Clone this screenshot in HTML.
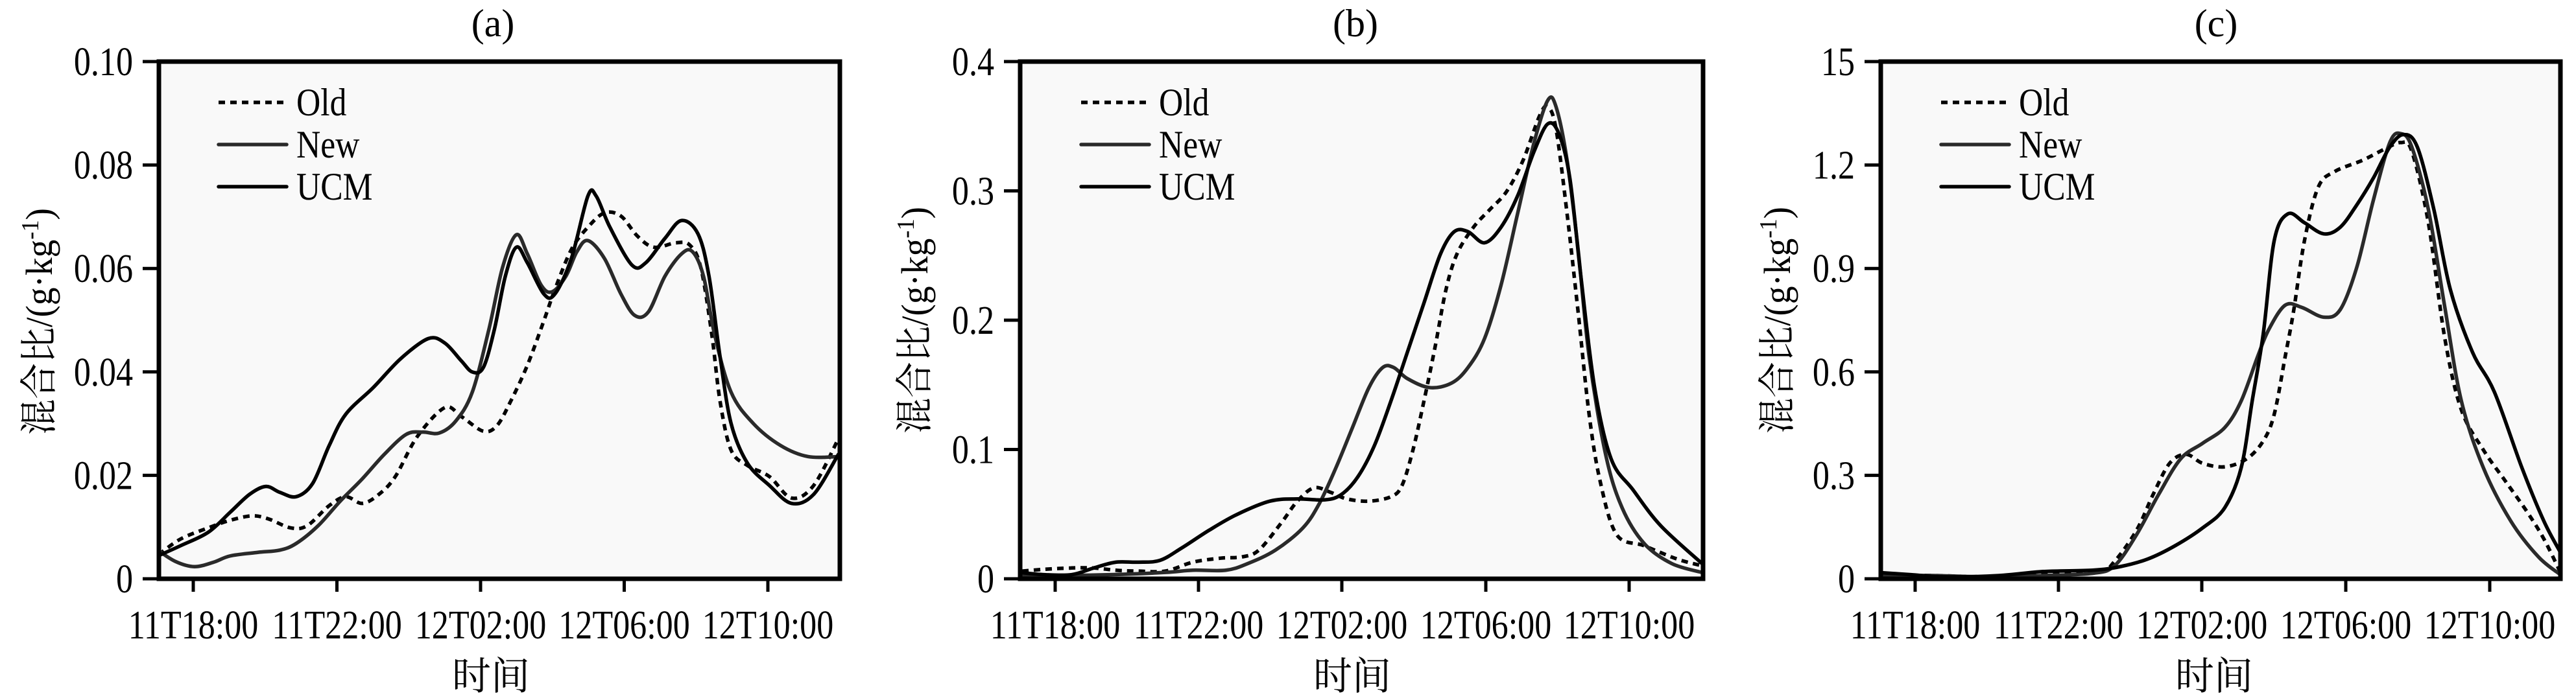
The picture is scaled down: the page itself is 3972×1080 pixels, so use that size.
<!DOCTYPE html>
<html><head><meta charset="utf-8"><style>
html,body{margin:0;padding:0;background:#fff;}
svg{display:block;}
text{font-family:"Liberation Serif","Times New Roman","DejaVu Serif",serif;fill:#000;}
.cjk{font-family:"Liberation Serif","Noto Serif CJK SC","Noto Sans CJK SC",serif;}
.c{fill:none;vector-effect:non-scaling-stroke;stroke-width:5.5;stroke-linejoin:round;stroke-linecap:round;}
.old{stroke:#000;stroke-dasharray:10,8;stroke-linecap:butt;}
.new{stroke:#2a2a2a;}
.ucm{stroke:#000;}
</style></head><body>
<svg width="3972" height="1080" viewBox="0 0 3972 1080" xmlns="http://www.w3.org/2000/svg" font-family="Liberation Serif, serif">
<defs>
<clipPath id="ca"><rect x="245" y="95" width="1050" height="798"/></clipPath>
<clipPath id="cb"><rect x="243" y="95" width="1053" height="798"/></clipPath>
<clipPath id="cc"><rect x="258" y="95" width="1048" height="798"/></clipPath>
</defs>

<!-- ================= Panel A ================= -->
<g transform="translate(0,0)">
<rect x="245" y="95" width="1050" height="798" fill="#f9f9f9"/>
<g clip-path="url(#ca)">
<g transform="translate(-1.6,0) scale(0.8487,0.6873)">
<polyline class="c old" points="290,1245 330,1210 380,1185 420,1168 460,1158 490,1165 530,1185 560,1180 600,1135 630,1115 660,1130 690,1110 720,1070 760,980 810,915 840,935 880,968 905,955 930,900 960,820 990,720 1010,650 1040,560 1070,510 1100,478 1130,485 1160,530 1190,555 1230,545 1255,550 1275,600 1295,750 1310,900 1330,1010 1360,1045 1400,1070 1440,1118 1480,1090 1525,985"/>
<polyline class="c new" points="285,1232 320,1260 355,1272 390,1262 420,1248 470,1240 510,1235 540,1220 580,1180 620,1125 660,1075 700,1020 740,975 770,970 800,972 830,945 860,880 890,740 915,600 940,527 960,570 985,640 1005,655 1030,620 1050,565 1070,540 1100,580 1130,660 1155,708 1180,700 1210,620 1240,570 1260,565 1280,620 1300,750 1330,880 1370,950 1420,1000 1470,1025 1525,1025"/>
<polyline class="c ucm" points="285,1250 330,1225 380,1195 420,1150 455,1110 485,1092 510,1105 540,1115 570,1085 600,1000 630,930 680,870 730,805 780,760 810,770 840,810 860,835 880,825 900,740 920,620 940,555 960,590 990,660 1010,660 1040,580 1070,440 1085,440 1110,510 1150,595 1175,590 1210,535 1240,495 1270,525 1290,620 1310,800 1330,950 1360,1040 1400,1090 1440,1130 1480,1110 1525,1020"/>
</g></g>
<rect x="245" y="95" width="1050" height="798" fill="none" stroke="#000" stroke-width="7"/>
<g stroke="#000" stroke-width="5">
<line x1="220" y1="95" x2="245" y2="95"/><line x1="220" y1="254.6" x2="245" y2="254.6"/><line x1="220" y1="414.2" x2="245" y2="414.2"/><line x1="220" y1="573.8" x2="245" y2="573.8"/><line x1="220" y1="733.4" x2="245" y2="733.4"/><line x1="220" y1="893" x2="245" y2="893"/>
<line x1="298" y1="893" x2="298" y2="913"/><line x1="519.5" y1="893" x2="519.5" y2="913"/><line x1="741" y1="893" x2="741" y2="913"/><line x1="962.5" y1="893" x2="962.5" y2="913"/><line x1="1184" y1="893" x2="1184" y2="913"/>
</g>
<g font-size="62" text-anchor="end">
<text transform="translate(205,116) scale(0.84,1)">0.10</text>
<text transform="translate(205,275.6) scale(0.84,1)">0.08</text>
<text transform="translate(205,435.2) scale(0.84,1)">0.06</text>
<text transform="translate(205,594.8) scale(0.84,1)">0.04</text>
<text transform="translate(205,754.4) scale(0.84,1)">0.02</text>
<text transform="translate(205,914) scale(0.84,1)">0</text>
</g>
<g font-size="62" text-anchor="middle">
<text transform="translate(298,985) scale(0.84,1)">11T18:00</text>
<text transform="translate(519.5,985) scale(0.84,1)">11T22:00</text>
<text transform="translate(741,985) scale(0.84,1)">12T02:00</text>
<text transform="translate(962.5,985) scale(0.84,1)">12T06:00</text>
<text transform="translate(1184,985) scale(0.84,1)">12T10:00</text>
<text x="760" y="56" font-size="60">(a)</text>
</g>
<text class="cjk" x="757" y="1064" font-size="60" text-anchor="middle">时间</text>
<text class="cjk" transform="translate(80,496) rotate(-90)" font-size="58" text-anchor="middle" textLength="350" lengthAdjust="spacingAndGlyphs">混合比/(g·kg<tspan baseline-shift="super" font-size="38">-1</tspan>)</text>
<line x1="337" y1="158" x2="442" y2="158" stroke="#000" stroke-width="5.5" stroke-dasharray="10,8"/>
<line x1="337" y1="223" x2="442" y2="223" stroke="#2a2a2a" stroke-width="5.5" stroke-linecap="round"/>
<line x1="337" y1="288" x2="442" y2="288" stroke="#000" stroke-width="5.5" stroke-linecap="round"/>
<g font-size="60">
<text transform="translate(457,178) scale(0.86,1)">Old</text>
<text transform="translate(457,243) scale(0.86,1)">New</text>
<text transform="translate(457,308) scale(0.86,1)">UCM</text>
</g>
</g>

<!-- ================= Panel B ================= -->
<g transform="translate(1330,0)">
<rect x="243" y="95" width="1053" height="798" fill="#f9f9f9"/>
<g clip-path="url(#cb)">
<g transform="scale(0.8487,0.6873)">
<polyline class="c old" points="290,1282 330,1278 380,1275 420,1275 460,1280 500,1282 550,1282 600,1262 650,1253 690,1250 720,1235 760,1175 790,1125 820,1095 850,1105 880,1120 920,1125 960,1115 980,1090 1000,1010 1020,900 1040,780 1060,650 1080,570 1110,510 1140,470 1170,430 1200,360 1230,260 1245,240 1260,290 1280,480 1300,700 1320,930 1340,1080 1370,1200 1420,1225 1480,1255 1525,1270"/>
<polyline class="c new" points="285,1290 350,1292 450,1290 550,1285 600,1280 660,1280 700,1265 750,1235 800,1185 830,1130 860,1050 890,960 920,870 945,825 965,825 990,850 1030,870 1070,860 1100,825 1130,760 1160,640 1190,480 1220,320 1245,225 1260,240 1280,360 1300,560 1320,800 1350,1020 1380,1140 1420,1220 1470,1265 1525,1285"/>
<polyline class="c ucm" points="285,1285 330,1290 380,1290 420,1275 460,1262 500,1262 540,1258 580,1230 630,1190 680,1155 740,1125 790,1120 840,1122 870,1110 900,1070 930,1000 960,900 990,790 1020,680 1050,570 1075,520 1100,520 1130,545 1160,510 1190,440 1220,340 1245,278 1265,300 1285,400 1305,620 1330,870 1360,1030 1400,1100 1450,1180 1525,1265"/>
</g></g>
<rect x="243" y="95" width="1053" height="798" fill="none" stroke="#000" stroke-width="7"/>
<g stroke="#000" stroke-width="5">
<line x1="218" y1="95" x2="243" y2="95"/><line x1="218" y1="294.5" x2="243" y2="294.5"/><line x1="218" y1="494" x2="243" y2="494"/><line x1="218" y1="693.5" x2="243" y2="693.5"/><line x1="218" y1="893" x2="243" y2="893"/>
<line x1="297" y1="893" x2="297" y2="913"/><line x1="518" y1="893" x2="518" y2="913"/><line x1="739" y1="893" x2="739" y2="913"/><line x1="961" y1="893" x2="961" y2="913"/><line x1="1182" y1="893" x2="1182" y2="913"/>
</g>
<g font-size="62" text-anchor="end">
<text transform="translate(203,116) scale(0.84,1)">0.4</text>
<text transform="translate(203,315.5) scale(0.84,1)">0.3</text>
<text transform="translate(203,515) scale(0.84,1)">0.2</text>
<text transform="translate(203,714.5) scale(0.84,1)">0.1</text>
<text transform="translate(203,914) scale(0.84,1)">0</text>
</g>
<g font-size="62" text-anchor="middle">
<text transform="translate(297,985) scale(0.84,1)">11T18:00</text>
<text transform="translate(518,985) scale(0.84,1)">11T22:00</text>
<text transform="translate(739,985) scale(0.84,1)">12T02:00</text>
<text transform="translate(961,985) scale(0.84,1)">12T06:00</text>
<text transform="translate(1182,985) scale(0.84,1)">12T10:00</text>
<text x="760" y="56" font-size="60">(b)</text>
</g>
<text class="cjk" x="755" y="1064" font-size="60" text-anchor="middle">时间</text>
<text class="cjk" transform="translate(100,494) rotate(-90)" font-size="58" text-anchor="middle" textLength="350" lengthAdjust="spacingAndGlyphs">混合比/(g·kg<tspan baseline-shift="super" font-size="38">-1</tspan>)</text>
<line x1="337" y1="158" x2="442" y2="158" stroke="#000" stroke-width="5.5" stroke-dasharray="10,8"/>
<line x1="337" y1="223" x2="442" y2="223" stroke="#2a2a2a" stroke-width="5.5" stroke-linecap="round"/>
<line x1="337" y1="288" x2="442" y2="288" stroke="#000" stroke-width="5.5" stroke-linecap="round"/>
<g font-size="60">
<text transform="translate(457,178) scale(0.86,1)">Old</text>
<text transform="translate(457,243) scale(0.86,1)">New</text>
<text transform="translate(457,308) scale(0.86,1)">UCM</text>
</g>
</g>

<!-- ================= Panel C ================= -->
<g transform="translate(2642,0)">
<rect x="258" y="95" width="1048" height="798" fill="#f9f9f9"/>
<g clip-path="url(#cc)">
<g transform="translate(-1,0) scale(0.8487,0.6873)">
<polyline class="c old" points="300,1292 400,1292 500,1295 600,1290 700,1285 730,1260 770,1190 800,1110 830,1040 860,1020 890,1040 930,1048 970,1030 1000,990 1020,930 1040,800 1055,700 1075,540 1100,420 1130,385 1180,360 1220,335 1250,320 1270,340 1300,500 1330,760 1360,920 1400,1010 1440,1080 1480,1150 1510,1210 1540,1285"/>
<polyline class="c new" points="300,1292 400,1292 500,1295 600,1292 690,1287 730,1270 770,1200 810,1110 850,1030 890,995 930,960 960,900 990,800 1010,740 1040,685 1070,690 1110,712 1140,695 1170,600 1200,450 1230,320 1250,300 1270,330 1300,470 1330,690 1360,900 1400,1050 1450,1170 1500,1250 1540,1290"/>
<polyline class="c ucm" points="300,1285 360,1290 420,1295 520,1292 600,1283 690,1280 740,1272 790,1255 840,1225 890,1185 930,1140 960,1050 980,900 1000,750 1020,540 1045,480 1075,500 1110,525 1140,510 1170,460 1200,400 1230,330 1255,302 1280,330 1310,470 1340,650 1380,790 1420,880 1470,1050 1510,1170 1540,1240"/>
</g></g>
<rect x="258" y="95" width="1048" height="798" fill="none" stroke="#000" stroke-width="7"/>
<g stroke="#000" stroke-width="5">
<line x1="233" y1="95" x2="258" y2="95"/><line x1="233" y1="254.6" x2="258" y2="254.6"/><line x1="233" y1="414.2" x2="258" y2="414.2"/><line x1="233" y1="573.8" x2="258" y2="573.8"/><line x1="233" y1="733.4" x2="258" y2="733.4"/><line x1="233" y1="893" x2="258" y2="893"/>
<line x1="311" y1="893" x2="311" y2="913"/><line x1="532" y1="893" x2="532" y2="913"/><line x1="753" y1="893" x2="753" y2="913"/><line x1="975" y1="893" x2="975" y2="913"/><line x1="1197" y1="893" x2="1197" y2="913"/>
</g>
<g font-size="62" text-anchor="end">
<text transform="translate(218,116) scale(0.84,1)">15</text>
<text transform="translate(218,275.6) scale(0.84,1)">1.2</text>
<text transform="translate(218,435.2) scale(0.84,1)">0.9</text>
<text transform="translate(218,594.8) scale(0.84,1)">0.6</text>
<text transform="translate(218,754.4) scale(0.84,1)">0.3</text>
<text transform="translate(218,914) scale(0.84,1)">0</text>
</g>
<g font-size="62" text-anchor="middle">
<text transform="translate(311,985) scale(0.84,1)">11T18:00</text>
<text transform="translate(532,985) scale(0.84,1)">11T22:00</text>
<text transform="translate(753,985) scale(0.84,1)">12T02:00</text>
<text transform="translate(975,985) scale(0.84,1)">12T06:00</text>
<text transform="translate(1197,985) scale(0.84,1)">12T10:00</text>
<text x="775" y="56" font-size="60">(c)</text>
</g>
<text class="cjk" x="772" y="1064" font-size="60" text-anchor="middle">时间</text>
<text class="cjk" transform="translate(118,494) rotate(-90)" font-size="58" text-anchor="middle" textLength="350" lengthAdjust="spacingAndGlyphs">混合比/(g·kg<tspan baseline-shift="super" font-size="38">-1</tspan>)</text>
<line x1="351" y1="158" x2="456" y2="158" stroke="#000" stroke-width="5.5" stroke-dasharray="10,8"/>
<line x1="351" y1="223" x2="456" y2="223" stroke="#2a2a2a" stroke-width="5.5" stroke-linecap="round"/>
<line x1="351" y1="288" x2="456" y2="288" stroke="#000" stroke-width="5.5" stroke-linecap="round"/>
<g font-size="60">
<text transform="translate(471,178) scale(0.86,1)">Old</text>
<text transform="translate(471,243) scale(0.86,1)">New</text>
<text transform="translate(471,308) scale(0.86,1)">UCM</text>
</g>
</g>
</svg>
<script>
(function(){
var pls=document.querySelectorAll('polyline.c');
for(var i=0;i<pls.length;i++){
 var pl=pls[i];
 var nums=pl.getAttribute('points').trim().split(/[\s,]+/).map(Number);
 var p=[];for(var k=0;k<nums.length;k+=2)p.push([nums[k],nums[k+1]]);
 var d='M'+p[0][0]+','+p[0][1];
 for(var j=0;j<p.length-1;j++){
  var p0=p[j-1]||p[j],p1=p[j],p2=p[j+1],p3=p[j+2]||p2;
  var c1x=p1[0]+(p2[0]-p0[0])/6,c1y=p1[1]+(p2[1]-p0[1])/6;
  var c2x=p2[0]-(p3[0]-p1[0])/6,c2y=p2[1]-(p3[1]-p1[1])/6;
  d+=' C'+c1x.toFixed(1)+','+c1y.toFixed(1)+' '+c2x.toFixed(1)+','+c2y.toFixed(1)+' '+p2[0]+','+p2[1];
 }
 var path=document.createElementNS('http://www.w3.org/2000/svg','path');
 path.setAttribute('d',d);path.setAttribute('class',pl.getAttribute('class'));
 pl.parentNode.replaceChild(path,pl);
}
})();
</script>
</body></html>
